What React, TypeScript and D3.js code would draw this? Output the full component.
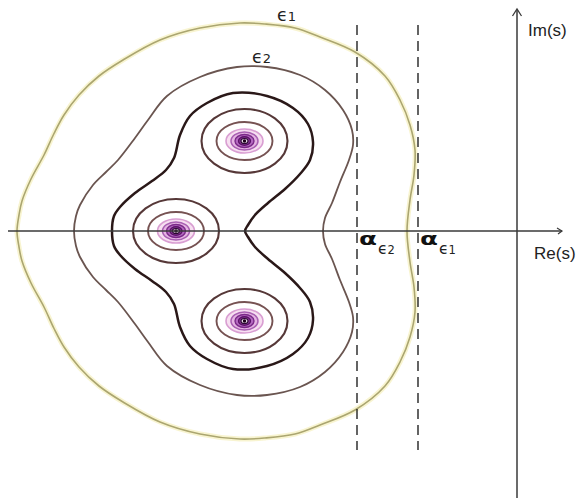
import React from "react";
import * as d3 from "d3";

const W = 584;
const H = 498;

// Pseudospectral level curves in the upper half-plane, as (Re, Im) pairs,
// traced from the negative real axis over the top and back to the real axis.
// The lower half-plane is the mirror image (real matrix).
const EPS1_UPPER: [number, number][] = [
  [-10.0, 0], [-9.96, 0.32], [-9.9, 0.6], [-9.72, 1.04], [-9.46, 1.52],
  [-9.26, 1.95], [-9.06, 2.32], [-8.76, 2.72], [-8.36, 3.1], [-7.88, 3.42],
  [-7.14, 3.82], [-6.34, 4.06], [-5.54, 4.16], [-5.04, 4.14], [-4.44, 4.06],
  [-3.94, 3.88], [-3.24, 3.58], [-2.64, 3.1], [-2.34, 2.62], [-2.14, 2.12],
  [-2.04, 1.62], [-2.06, 1.12], [-2.14, 0.62], [-2.2, 0],
];

const EPS2_UPPER: [number, number][] = [
  [-8.86, 0], [-8.82, 0.3], [-8.74, 0.52], [-8.48, 0.92], [-8.22, 1.18],
  [-7.98, 1.42], [-7.64, 1.86], [-7.38, 2.22], [-7.0, 2.7], [-6.34, 3.08],
  [-5.6, 3.28], [-5.0, 3.28], [-4.34, 3.12], [-3.84, 2.82], [-3.48, 2.42],
  [-3.3, 2.02], [-3.28, 1.72], [-3.36, 1.42], [-3.54, 0.98], [-3.7, 0.56],
  [-3.84, 0.26], [-3.88, 0],
];

const EPS3_UPPER: [number, number][] = [
  [-8.1, 0], [-8.06, 0.3], [-7.94, 0.48], [-7.64, 0.76], [-7.3, 1.0],
  [-7.02, 1.22], [-6.86, 1.46], [-6.74, 1.92], [-6.54, 2.3], [-6.2, 2.56],
  [-5.68, 2.76], [-5.0, 2.7], [-4.48, 2.46], [-4.18, 2.14], [-4.08, 1.78],
  [-4.14, 1.42], [-4.34, 1.14], [-4.64, 0.84], [-4.98, 0.56], [-5.24, 0.32],
  [-5.38, 0.12], [-5.44, 0],
];

// eigenvalues
const EIG_RE = [-5.45, -6.82, -5.45];
const EIG_IM = [1.8, 0, -1.8];

// small level curves around each eigenvalue (semi-axes in Re / Im units)
const RING_RX = [0.86, 0.56, 0.37, 0.27, 0.19, 0.12, 0.07];
const RING_RY = [0.64, 0.38, 0.24, 0.18, 0.13, 0.085, 0.05];
const RING_STROKE = ["#563838", "#765252", "#d99ed2", "#a85fb2", "#7a2a88", "#5a1266", "#2a0830"];
const RING_FILL = ["none", "none", "#f7dff1", "#e6b4e3", "#b468c0", "#8a3a99", "#efdff0"];
const RING_WIDTH = [2.1, 1.9, 1.6, 1.5, 1.4, 1.3, 1.2];

// spectral abscissae of the two pseudospectra
const ALPHA_RE = [-3.2, -1.98];
const ALPHA_SUB = ["2", "1"];

const x = d3.scaleLinear().domain([-10, 0]).range([17, 517]);
const y = d3.scaleLinear().domain([0, 4]).range([231, 31]);

const closeLoop = (upper: [number, number][]): [number, number][] => [
  ...upper,
  ...upper
    .slice(1, -1)
    .reverse()
    .map(([re, im]) => [re, -im] as [number, number]),
];

const contourLine = d3
  .line<[number, number]>()
  .x((d) => x(d[0]))
  .y((d) => y(d[1]))
  .curve(d3.curveCatmullRomClosed.alpha(0.5));

const SANS = "'Liberation Sans', Arial, 'DejaVu Sans', sans-serif";
const GREEK = "'DejaVu Sans', 'Noto Sans', sans-serif";

function EpsLabel({ px, py, sub, size }: { px: number; py: number; sub: string; size: number }) {
  return (
    <text x={px} y={py} fontFamily={GREEK} fill="#222">
      <tspan fontSize={size * 1.35}>ϵ</tspan>
      <tspan fontSize={size}>{sub}</tspan>
    </text>
  );
}

export default function App() {
  const x0 = x(0);
  const y0 = y(0);
  const outer = contourLine(closeLoop(EPS1_UPPER)) || "";
  return (
    <svg
      width={W}
      height={H}
      viewBox={`0 0 ${W} ${H}`}
      style={{ position: "absolute", left: 0, top: 0, background: "#fff" }}
    >
      <rect width={W} height={H} fill="#fff" />

      {/* outer level curve with its soft halo */}
      <path d={outer} fill="none" stroke="#f6f1c4" strokeWidth={5} opacity={0.8} />
      <path d={outer} fill="none" stroke="#aba670" strokeWidth={1.6} />
      <path d={contourLine(closeLoop(EPS2_UPPER)) || ""} fill="none" stroke="#6a5550" strokeWidth={1.8} />
      <path d={contourLine(closeLoop(EPS3_UPPER)) || ""} fill="none" stroke="#2a1818" strokeWidth={2.5} />

      {EIG_RE.map((re, k) => (
        <g key={k}>
          {RING_RX.map((rx, i) => (
            <ellipse
              key={i}
              cx={x(re)}
              cy={y(EIG_IM[k])}
              rx={x(rx) - x(0)}
              ry={y(0) - y(RING_RY[i])}
              fill={RING_FILL[i]}
              stroke={RING_STROKE[i]}
              strokeWidth={RING_WIDTH[i]}
            />
          ))}
          <circle cx={x(re)} cy={y(EIG_IM[k])} r={1.7} fill="#1a0018" />
        </g>
      ))}

      {/* real axis */}
      <line x1={8} y1={y0} x2={562} y2={y0} stroke="#3a3a3a" strokeWidth={1.5} />
      <path d={`M${557},${y0 - 3}L${562},${y0}L${558},${y0 + 3}`} fill="none" stroke="#3a3a3a" strokeWidth={1.2} />
      {/* imaginary axis */}
      <line x1={x0} y1={10} x2={x0} y2={H} stroke="#3a3a3a" strokeWidth={1.5} />
      <path d={`M${x0 - 4.5},${16}L${x0},${9}L${x0 + 4.5},${16}`} fill="none" stroke="#3a3a3a" strokeWidth={1.3} />

      <text x={x0 + 11} y={36} fontFamily={SANS} fontSize={17} fill="#222">
        Im(s)
      </text>
      <text x={x0 + 17} y={259} fontFamily={SANS} fontSize={17} fill="#222">
        Re(s)
      </text>

      {/* spectral abscissae */}
      {ALPHA_RE.map((a, i) => (
        <g key={i}>
          <line
            x1={x(a)}
            x2={x(a)}
            y1={y(4.12)}
            y2={y(-4.38)}
            stroke="#111"
            strokeWidth={1.3}
            strokeDasharray="10 6"
          />
          <text
            x={x(a) + 2}
            y={y(-0.28)}
            fontFamily={GREEK}
            fontWeight="bold"
            fontSize={17}
            textLength={18}
            lengthAdjust="spacingAndGlyphs"
            fill="#111"
          >
            α
          </text>
          <EpsLabel px={x(a) + 21} py={y(-0.45)} sub={ALPHA_SUB[i]} size={11.5} />
        </g>
      ))}

      {/* level labels */}
      <EpsLabel px={x(-4.8)} py={y(4.2)} sub="1" size={13} />
      <EpsLabel px={x(-5.3)} py={y(3.36)} sub="2" size={13} />
    </svg>
  );
}
